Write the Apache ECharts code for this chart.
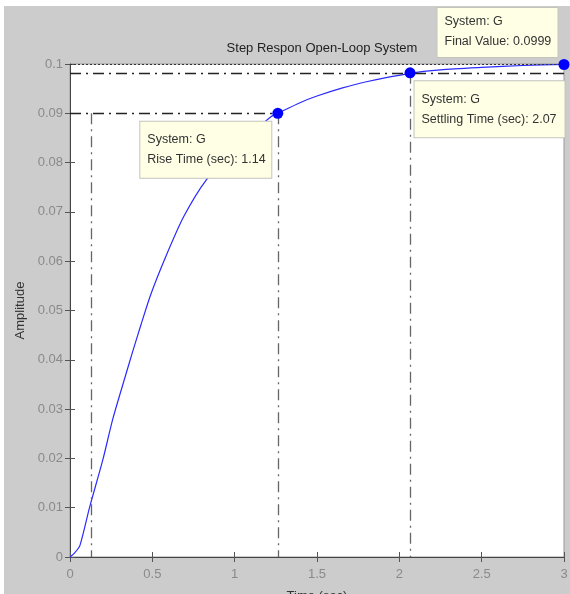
<!DOCTYPE html>
<html>
<head>
<meta charset="utf-8">
<script src="https://cdn.jsdelivr.net/npm/echarts@6/dist/echarts.min.js"></script>
<style>
html,body{margin:0;padding:0;background:#fff;}
#chart{width:570px;height:594px;}
</style>
</head>
<body>
<div id="chart"></div>
<script>
// ---- data ----
const timeSec   = [0, 0.03, 0.06, 0.12, 0.2, 0.26, 0.33, 0.38, 0.43, 0.49, 0.58, 0.69, 0.83, 1.0, 1.1, 1.22, 1.262, 1.4, 1.5, 1.65, 1.8, 2.065, 2.25, 2.5, 2.75, 3.0];
const amplitude = [0, 0.0009, 0.0023, 0.0102, 0.0198, 0.0280, 0.0360, 0.0416, 0.0470, 0.0532, 0.0608, 0.0690, 0.0766, 0.0828, 0.0858, 0.0893, 0.0900, 0.0922, 0.0935, 0.0951, 0.0964, 0.0981, 0.0988, 0.0993, 0.0997, 0.0999];

const xTickLabels = ['0', '0.5', '1', '1.5', '2', '2.5', '3'];
const yTickLabels = ['0', '0.01', '0.02', '0.03', '0.04', '0.05', '0.06', '0.07', '0.08', '0.09', '0.1'];

const riseStartT = 0.128, riseEndT = 1.262, riseLevel = 0.09;
const settleT = 2.065, settleLevel = 0.0982;
const finalT = 3, finalValue = 0.0999;

const riseText   = ['System: G', 'Rise Time (sec): 1.14'];
const settleText = ['System: G', 'Settling Time (sec): 2.07'];
const finalText  = ['System: G', 'Final Value: 0.0999'];

const titleText = 'Step Respon Open-Loop System';

// ---- chart ----
const FONT = '"Liberation Sans Narrow", "Liberation Sans", Arial, sans-serif';
const chart = echarts.init(document.getElementById('chart'), null, {renderer: 'canvas'});

const curve = timeSec.map((t, i) => [t, amplitude[i]]);
const dashDot = [11, 5, 2, 5];

function tipLabel(lines, opts) {
  return Object.assign({
    show: true,
    formatter: lines.join('\n'),
    color: '#333',
    fontFamily: FONT,
    fontSize: 12.5,
    lineHeight: 20,
    align: 'left',
    backgroundColor: '#ffffe6',
    borderColor: '#c4c4bc',
    borderWidth: 1,
    opacity: 1,
    padding: [8, 8, 8, 7]
  }, opts);
}

const option = {
  backgroundColor: '#ffffff',
  animation: false,
  graphic: [{
    type: 'rect', z: -100, silent: true,
    shape: {x: 4, y: 6, width: 566, height: 588},
    style: {fill: '#cccccc'}
  }],
  title: {
    text: titleText,
    left: 317, top: 37, textAlign: 'center',
    textStyle: {fontFamily: FONT, fontSize: 13, fontWeight: 'normal', color: '#222'}
  },
  grid: {
    left: 70, right: 6, top: 64, bottom: 37,
    outerBoundsMode: 'none',
    containLabel: false,
    show: true, backgroundColor: '#ffffff', borderColor: '#9a9a9a', borderWidth: 1
  },
  xAxis: [{
    type: 'value', min: 0, max: 3, interval: 0.5, position: 'bottom',
    name: 'Time (sec)', nameLocation: 'middle', nameGap: 33,
    nameTextStyle: {fontFamily: FONT, fontSize: 13, color: '#333'},
    axisLine: {show: true, lineStyle: {color: '#444', width: 1}},
    axisTick: {show: true, inside: true, length: 5, lineStyle: {color: '#555'}},
    axisLabel: {
      margin: 11, color: '#8a8a8a', fontFamily: FONT, fontSize: 13,
      formatter: (v) => xTickLabels[Math.round(v / 0.5)]
    },
    splitLine: {show: false}
  }, {
    type: 'value', min: 0, max: 3, interval: 0.5, position: 'top',
    axisLine: {show: false},
    axisTick: {show: true, inside: true, length: 5, lineStyle: {color: '#555'}},
    axisLabel: {show: false},
    splitLine: {show: false}
  }],
  yAxis: [{
    type: 'value', min: 0, max: 0.1, interval: 0.01, position: 'left',
    name: 'Amplitude', nameLocation: 'middle', nameRotate: 90, nameGap: 36,
    nameTextStyle: {fontFamily: FONT, fontSize: 13, color: '#333'},
    axisLine: {show: true, lineStyle: {color: '#444', width: 1}},
    axisTick: {show: true, inside: true, length: 5, lineStyle: {color: '#555'}},
    axisLabel: {
      margin: 7, color: '#8a8a8a', fontFamily: FONT, fontSize: 13,
      formatter: (v) => yTickLabels[Math.round(v / 0.01)]
    },
    splitLine: {show: false}
  }, {
    type: 'value', min: 0, max: 0.1, interval: 0.01, position: 'right',
    axisLine: {show: false},
    axisTick: {show: true, inside: true, length: 5, lineStyle: {color: '#555'}},
    axisLabel: {show: false},
    splitLine: {show: false}
  }],
  series: [{
    type: 'line',
    name: 'refs',
    data: [],
    silent: true,
    markLine: {
      silent: true, symbol: 'none', animation: false,
      label: {show: false},
      data: [
        [{coord: [0, riseLevel], lineStyle: {color: '#222', type: dashDot, width: 1.3}}, {coord: [riseEndT, riseLevel]}],
        [{coord: [riseStartT, riseLevel], lineStyle: {color: '#666', type: dashDot, width: 1.3}}, {coord: [riseStartT, 0]}],
        [{coord: [riseEndT, riseLevel], lineStyle: {color: '#666', type: dashDot, width: 1.3}}, {coord: [riseEndT, 0]}],
        [{coord: [0, settleLevel], lineStyle: {color: '#222', type: dashDot, width: 1.3}}, {coord: [finalT, settleLevel]}],
        [{coord: [settleT, settleLevel], lineStyle: {color: '#666', type: dashDot, width: 1.3}}, {coord: [settleT, 0]}],
        [{coord: [0, finalValue], lineStyle: {color: '#333', type: [2, 2], width: 1}}, {coord: [finalT, finalValue]}]
      ]
    }
  }, {
    type: 'line',
    name: 'G',
    data: curve,
    showSymbol: false,
    smooth: 0.25,
    lineStyle: {color: '#2a2aff', width: 1.2},
    z: 2
  }, {
    type: 'scatter',
    name: 'tips',
    symbol: 'circle',
    symbolSize: 11,
    itemStyle: {color: '#0000ff', opacity: 1},
    zlevel: 1,
    z: 10,
    data: [
      {value: [riseEndT, riseLevel], label: tipLabel(riseText, {position: [-132, 14], verticalAlign: 'top', width: 116})},
      {value: [settleT, settleLevel], label: tipLabel(settleText, {position: [10, 14], verticalAlign: 'top', width: 135})},
      {value: [finalT, finalValue], label: tipLabel(finalText, {position: [-121, -2], verticalAlign: 'bottom', width: 105, padding: [4, 8, 5, 7]})}
    ]
  }]
};

chart.setOption(option);
</script>
</body>
</html>
